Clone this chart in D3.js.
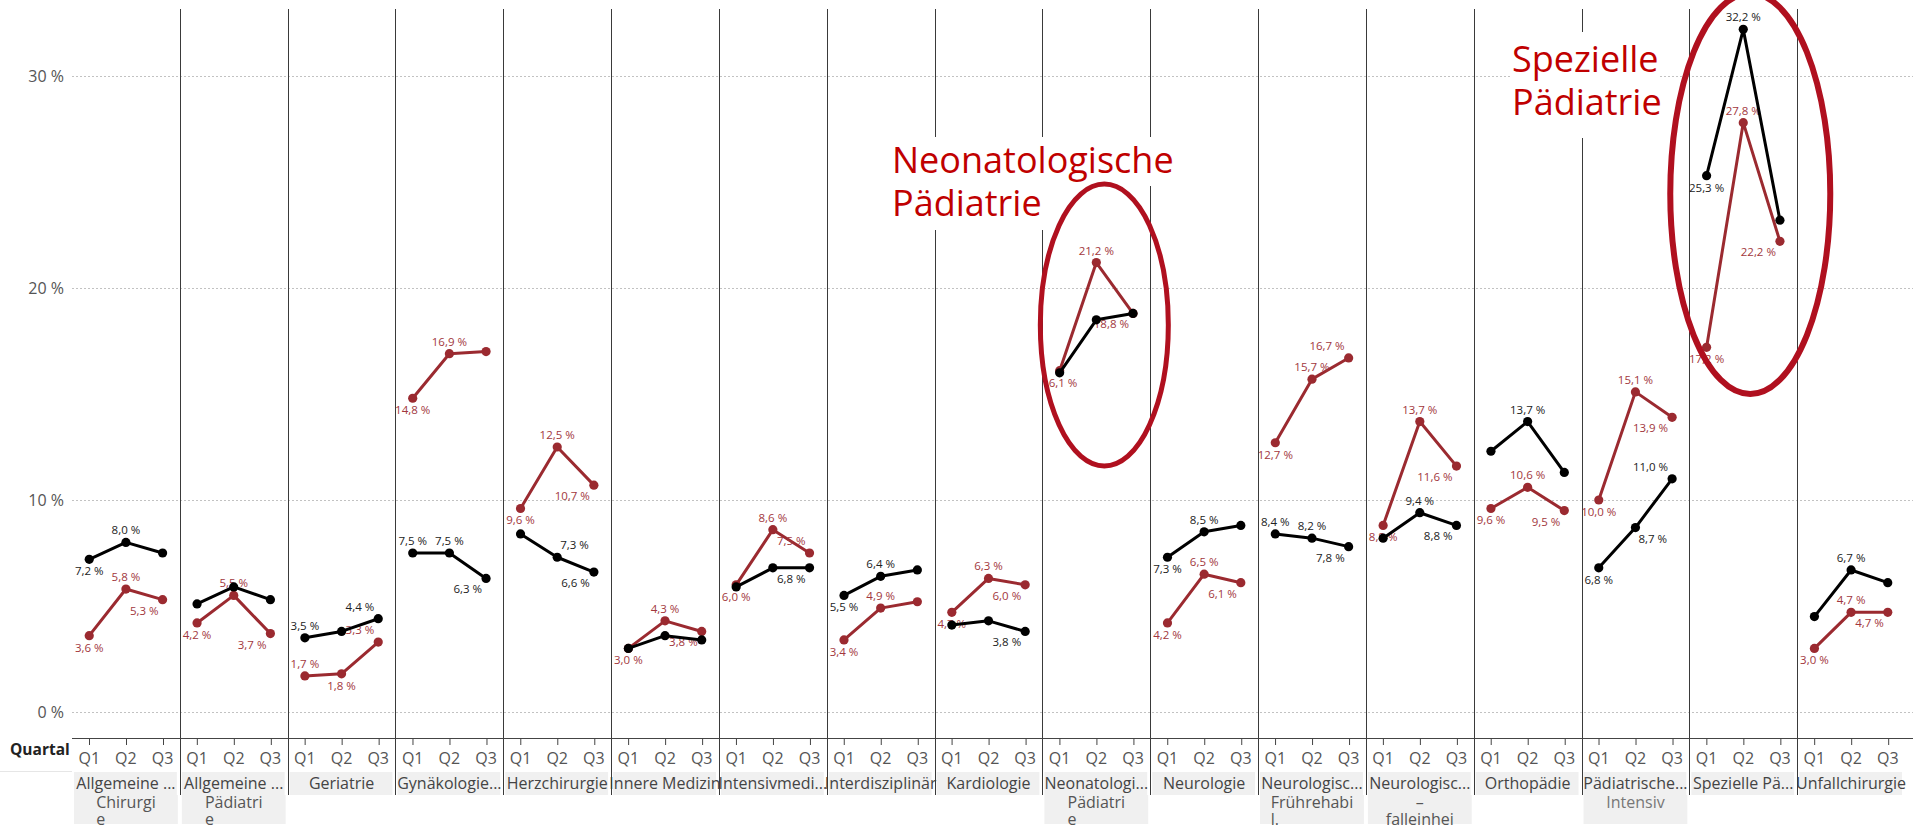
<!DOCTYPE html>
<html>
<head>
<meta charset="utf-8">
<script src="https://cdn.jsdelivr.net/npm/d3@7"></script>
<style>
  html, body { margin: 0; padding: 0; background: #fff; overflow: hidden; }
  svg { display: block; font-family: "Open Sans", "Noto Sans", sans-serif; }
</style>
</head>
<body>
<svg id="chart" width="1913" height="826"></svg>
<script>
// Departments shown as panel headers (first header line, as displayed)
const categories = [
  "Allgemeine ...", "Allgemeine  ...", "Geriatrie", "Gynäkologie...", "Herzchirurgie",
  "Innere Medizin", "Intensivmedi...", "Interdisziplinär", "Kardiologie", "Neonatologi...",
  "Neurologie", "Neurologisc...", "Neurologisc... ", "Orthopädie", "Pädiatrische...",
  "Spezielle Pä...", "Unfallchirurgie"
];
// Wrapped continuation lines of the header text
const categoryWrap = [
  ["Chirurgi", "e"], ["Pädiatri", "e"], [], [], [], [], [], [], [],
  ["Pädiatri", "e"], [], ["Frührehabi", "l."], ["–", "falleinhei"], [], ["Intensiv"], [], []
];
const wrapAnchor = [
  "block", "block", "block", "block", "block", "block", "block", "block", "block",
  "block", "block", "block", "middle", "block", "middle", "block", "block"
];

const quarters = ["Q1", "Q2", "Q3"];

// Share in percent per department and quarter
const seriesBlack = [
  [7.2, 8.0, 7.5], [5.1, 5.9, 5.3], [3.5, 3.8, 4.4], [7.5, 7.5, 6.3], [8.4, 7.3, 6.6],
  [3.0, 3.6, 3.4], [5.9, 6.8, 6.8], [5.5, 6.4, 6.7], [4.1, 4.3, 3.8], [16.0, 18.5, 18.8],
  [7.3, 8.5, 8.8], [8.4, 8.2, 7.8], [8.2, 9.4, 8.8], [12.3, 13.7, 11.3], [6.8, 8.7, 11.0],
  [25.3, 32.2, 23.2], [4.5, 6.7, 6.1]
];
const seriesRed = [
  [3.6, 5.8, 5.3], [4.2, 5.5, 3.7], [1.7, 1.8, 3.3], [14.8, 16.9, 17.0], [9.6, 12.5, 10.7],
  [3.0, 4.3, 3.8], [6.0, 8.6, 7.5], [3.4, 4.9, 5.2], [4.7, 6.3, 6.0], [16.1, 21.2, 18.8],
  [4.2, 6.5, 6.1], [12.7, 15.7, 16.7], [8.8, 13.7, 11.6], [9.6, 10.6, 9.5], [10.0, 15.1, 13.9],
  [17.2, 27.8, 22.2], [3.0, 4.7, 4.7]
];

// Where each value label sits relative to its point ("" = no label)
const labelsBlack = [
  ["s", "n", ""], ["", "", ""], ["n", "", "nw"], ["n", "n", "sw"], ["", "ne", "sw"],
  ["", "", ""], ["", "", "sw"], ["s", "n", ""], ["", "", "sw"], ["", "", ""],
  ["s", "n", ""], ["n", "n", "sw"], ["", "n", "sw"], ["", "n", ""], ["s", "se", "nw"],
  ["s", "n", ""], ["", "n", ""]
];
const labelsRed = [
  ["s", "n", "sw"], ["s", "n", "sw"], ["n", "s", "nw"], ["s", "n", ""], ["s", "n", "sw"],
  ["s", "n", "sw"], ["s", "n", "nw"], ["s", "n", ""], ["s", "n", "sw"], ["s", "n", "sw"],
  ["s", "n", "sw"], ["s", "n", "nw"], ["s", "n", "sw"], ["s", "n", "sw"], ["s", "n", "sw"],
  ["s", "n", "sw"], ["s", "n", "sw"]
];

const yTicks = [0, 10, 20, 30];

// Highlighted departments with callout text
const calloutCategories = ["Neonatologi...", "Spezielle Pä..."];
const calloutTexts = [["Neonatologische", "Pädiatrie"], ["Spezielle", "Pädiatrie"]];
const calloutSpans = [[11.6, 24.9], [15.0, 33.9]]; // percent range enclosed by each ring

// ---------------------------------------------------------------------------
const svg = d3.select("#chart");
const W = 1913;

const x = d3.scaleBand().domain(categories).range([72, 1905]);
const xq = d3.scalePoint().domain(quarters).range([0, x.bandwidth()]).padding(0.47);
const y = d3.scaleLinear().domain([0, 30]).range([712, 76]);

const locale = d3.formatLocale({ decimal: ",", thousands: ".", grouping: [3], currency: ["", " €"] });
const fmt1 = locale.format(".1f");
const fmtLabel = v => fmt1(v) + " %";

const axisY = 738;

// Clip region for the wrapped header lines (second header row)
svg.append("defs").append("clipPath").attr("id", "wrapClip")
  .append("rect").attr("x", 0).attr("y", 795).attr("width", W).attr("height", 31);

// Gridlines
svg.append("g").selectAll("line").data(yTicks).join("line")
  .attr("x1", 72).attr("x2", W)
  .attr("y1", d => Math.round(y(d)) + 0.5).attr("y2", d => Math.round(y(d)) + 0.5)
  .attr("stroke", "#c2c2c2").attr("stroke-width", 1).attr("stroke-dasharray", "2,2");

// Y tick labels
svg.append("g").selectAll("text").data(yTicks).join("text")
  .attr("x", 64).attr("y", d => y(d) + 6)
  .attr("text-anchor", "end").attr("font-size", 16).attr("fill", "#555")
  .text(d => d + " %");

// Faint rule left of the headers
svg.append("line").attr("x1", 0).attr("x2", 72).attr("y1", 771.5).attr("y2", 771.5)
  .attr("stroke", "#e6e6e6");

// "Quartal" row title
svg.append("text").attr("x", 10).attr("y", 755)
  .attr("font-size", 15.5).attr("font-weight", 700).attr("fill", "#222").text("Quartal");

// Header cells
const headers = svg.append("g");
const wrapLayer = headers.append("g").attr("clip-path", "url(#wrapClip)");
categories.forEach((cat, i) => {
  const x0 = x(cat), bw = x.bandwidth(), cx = x0 + bw / 2;
  const wrap = categoryWrap[i];
  if (wrap.length) {
    wrapLayer.append("rect").attr("x", x0 + 2).attr("y", 795).attr("width", bw - 4).attr("height", 29)
      .attr("fill", "#f0f0f0");
    const texts = wrap.map((t, k) => wrapLayer.append("text")
      .attr("y", 808 + k * 17).attr("font-size", 16).attr("fill", wrap.length === 1 ? "#777" : "#555")
      .text(t));
    if (wrapAnchor[i] === "middle") {
      texts.forEach(t => t.attr("x", cx).attr("text-anchor", "middle"));
    } else {
      const maxW = d3.max(texts, t => t.node().getComputedTextLength());
      texts.forEach(t => t.attr("x", cx - maxW / 2).attr("text-anchor", "start"));
    }
  }
  headers.append("rect").attr("x", x0 + 2).attr("y", 772).attr("width", bw - 5).attr("height", 23)
    .attr("fill", "#f0f0f0");
  headers.append("text").attr("x", cx).attr("y", 789).attr("text-anchor", "middle")
    .attr("font-size", 16).attr("fill", "#444").text(cat.trim());
});

// Panel separators
svg.append("g").selectAll("line").data(categories.slice(1)).join("line")
  .attr("x1", d => Math.round(x(d)) + 0.5).attr("x2", d => Math.round(x(d)) + 0.5)
  .attr("y1", 9).attr("y2", 795)
  .attr("stroke", "#3a3a3a").attr("stroke-width", 1);

// X axis baseline
svg.append("line").attr("x1", 72).attr("x2", W).attr("y1", axisY + 0.5).attr("y2", axisY + 0.5)
  .attr("stroke", "#444");

// Panels
const panels = svg.append("g").selectAll("g").data(categories).join("g")
  .attr("transform", d => `translate(${x(d)},0)`);

panels.each(function () {
  const g = d3.select(this);
  g.selectAll("line.tick").data(quarters).join("line").attr("class", "tick")
    .attr("x1", q => Math.round(xq(q)) + 0.5).attr("x2", q => Math.round(xq(q)) + 0.5)
    .attr("y1", axisY).attr("y2", axisY + 7).attr("stroke", "#444");
  g.selectAll("text.tick").data(quarters).join("text").attr("class", "tick")
    .attr("x", q => xq(q)).attr("y", axisY + 26).attr("text-anchor", "middle")
    .attr("font-size", 16).attr("fill", "#555").text(q => q);
});

const placements = {
  n:  { anchor: "middle", dx: 0,  dy: -8 },
  s:  { anchor: "middle", dx: 0,  dy: 16 },
  nw: { anchor: "end",    dx: -4, dy: -8 },
  sw: { anchor: "end",    dx: -4, dy: 15 },
  ne: { anchor: "start",  dx: 3,  dy: -8 },
  se: { anchor: "start",  dx: 3,  dy: 15 }
};

const line = d3.line().x(d => xq(d.q)).y(d => y(d.v));

function drawSeries(values, labels, lineColor, labelColor) {
  panels.each(function (cat, i) {
    const g = d3.select(this).append("g");
    const pts = quarters.map((q, k) => ({ q, v: values[i][k], pos: labels[i][k] }));
    g.append("path").datum(pts).attr("d", line)
      .attr("fill", "none").attr("stroke", lineColor).attr("stroke-width", 3)
      .attr("stroke-linejoin", "round");
    g.selectAll("circle").data(pts).join("circle")
      .attr("cx", d => xq(d.q)).attr("cy", d => y(d.v)).attr("r", 4.6).attr("fill", lineColor);
    g.selectAll("text").data(pts.filter(d => d.pos)).join("text")
      .attr("x", d => xq(d.q) + placements[d.pos].dx)
      .attr("y", d => y(d.v) + placements[d.pos].dy)
      .attr("text-anchor", d => placements[d.pos].anchor)
      .attr("font-size", 11.5).attr("fill", labelColor)
      .text(d => fmtLabel(d.v));
  });
}

drawSeries(seriesRed, labelsRed, "#9b2a30", "#a2373d");
drawSeries(seriesBlack, labelsBlack, "#000", "#222");

// Callouts: text on white backing plus a ring around the department
const callouts = svg.append("g");
const textLayout = [
  { x: 892, base: 173, boxes: [[886, 137, 296, 49], [886, 186, 164, 44]] },
  { x: 1512, base: 72, boxes: [[1511, 32, 149, 106]] }
];
const ringLayout = [{ dx: 8, rx: 64, sw: 5 }, { dx: 7, rx: 80, sw: 6 }];

calloutCategories.forEach((cat, i) => {
  const tl = textLayout[i];
  tl.boxes.forEach(b => callouts.append("rect")
    .attr("x", b[0]).attr("y", b[1]).attr("width", b[2]).attr("height", b[3]).attr("fill", "#fff"));
  calloutTexts[i].forEach((t, k) => callouts.append("text")
    .attr("x", tl.x).attr("y", tl.base + k * 42.5)
    .attr("font-size", 36).attr("fill", "#c00000").text(t));
});
calloutCategories.forEach((cat, i) => {
  const rl = ringLayout[i];
  const [lo, hi] = calloutSpans[i];
  callouts.append("ellipse")
    .attr("cx", x(cat) + x.bandwidth() / 2 + rl.dx)
    .attr("cy", (y(lo) + y(hi)) / 2)
    .attr("rx", rl.rx).attr("ry", (y(lo) - y(hi)) / 2)
    .attr("fill", "none").attr("stroke", "#b0101f").attr("stroke-width", rl.sw);
});
</script>
</body>
</html>
